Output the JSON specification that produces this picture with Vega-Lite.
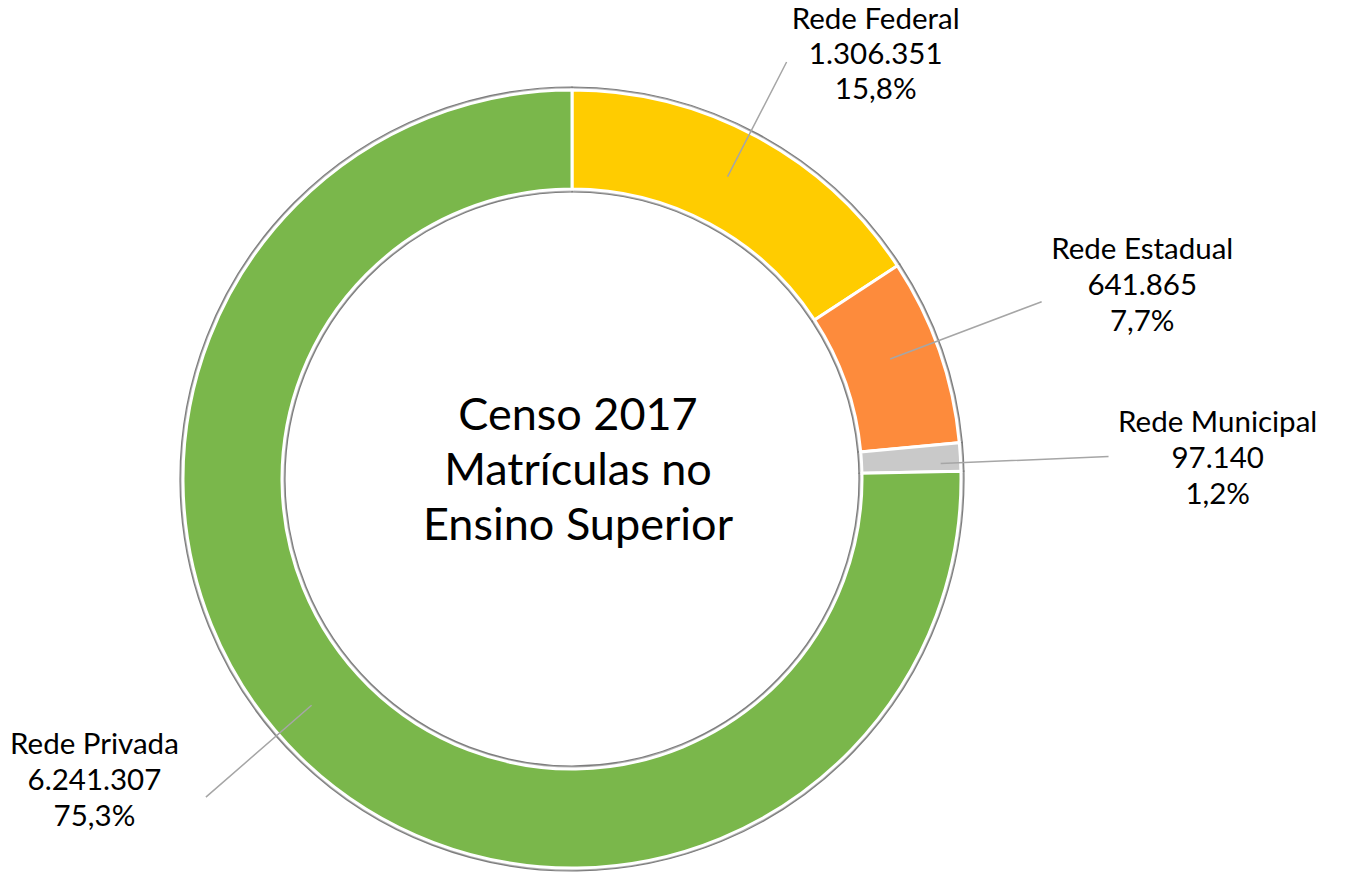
{
  "$schema": "https://vega.github.io/schema/vega-lite/v6.json",
  "width": 800,
  "height": 800,
  "autosize": {"type": "none"},
  "padding": {"left": 172, "top": 79, "right": 375, "bottom": 12},
  "background": "white",
  "config": {
    "view": {"stroke": null},
    "font": "Lato",
    "locale": {
      "number": {"decimal": ",", "thousands": ".", "grouping": [3], "currency": ["R$ ", ""]}
    }
  },
  "data": {
    "values": [
      {"rede": "Rede Federal", "ordem": 1, "n": 1306351},
      {"rede": "Rede Estadual", "ordem": 2, "n": 641865},
      {"rede": "Rede Municipal", "ordem": 3, "n": 97140},
      {"rede": "Rede Privada", "ordem": 4, "n": 6241307}
    ]
  },
  "transform": [
    {"joinaggregate": [{"op": "sum", "field": "n", "as": "total"}]},
    {"window": [{"op": "sum", "field": "n", "as": "acum"}], "sort": [{"field": "ordem"}], "frame": [null, 0]},
    {"calculate": "datum.acum - datum.n / 2", "as": "meio"},
    {"calculate": "[datum.rede, format(datum.n, ',d'), format(datum.n / datum.total, '.1%')]", "as": "rotulo"}
  ],
  "layer": [
    {
      "mark": {"type": "arc", "radius": 392, "radius2": 287, "fill": "#b3b3b3", "stroke": "#7d7d7d", "strokeWidth": 1.2},
      "encoding": {
        "theta": {"field": "n", "type": "quantitative", "stack": "zero"},
        "order": {"field": "ordem"}
      }
    },
    {
      "mark": {"type": "arc", "radius": 389, "radius2": 290, "stroke": "white", "strokeWidth": 3},
      "encoding": {
        "theta": {"field": "n", "type": "quantitative", "stack": "zero"},
        "order": {"field": "ordem"},
        "color": {
          "field": "rede",
          "type": "nominal",
          "scale": {
            "domain": ["Rede Federal", "Rede Estadual", "Rede Municipal", "Rede Privada"],
            "range": ["#ffcc00", "#fd8b3c", "#c9c9c9", "#7ab74b"]
          },
          "legend": null
        }
      }
    },
    {
      "transform": [{"filter": "datum.rede === 'Rede Federal'"}],
      "mark": {"type": "arc", "radius": 340, "radius2": 469, "thetaOffset": -0.02, "theta2Offset": -0.02, "fill": "transparent", "stroke": "#a6a6a6", "strokeWidth": 1.5},
      "encoding": {
        "theta": {"field": "meio", "type": "quantitative", "stack": null},
        "theta2": {"field": "meio"}
      }
    },
    {
      "transform": [{"filter": "datum.rede === 'Rede Estadual'"}],
      "mark": {"type": "arc", "radius": 340, "radius2": 502, "thetaOffset": -0.024, "theta2Offset": -0.024, "fill": "transparent", "stroke": "#a6a6a6", "strokeWidth": 1.5},
      "encoding": {
        "theta": {"field": "meio", "type": "quantitative", "stack": null},
        "theta2": {"field": "meio"}
      }
    },
    {
      "transform": [{"filter": "datum.rede === 'Rede Municipal'"}],
      "mark": {"type": "arc", "radius": 369, "radius2": 537, "thetaOffset": 0.015, "theta2Offset": 0.015, "fill": "transparent", "stroke": "#a6a6a6", "strokeWidth": 1.5},
      "encoding": {
        "theta": {"field": "meio", "type": "quantitative", "stack": null},
        "theta2": {"field": "meio"}
      }
    },
    {
      "transform": [{"filter": "datum.rede === 'Rede Privada'"}],
      "mark": {"type": "arc", "radius": 345, "radius2": 485, "thetaOffset": 0.08, "theta2Offset": 0.08, "fill": "transparent", "stroke": "#a6a6a6", "strokeWidth": 1.5},
      "encoding": {
        "theta": {"field": "meio", "type": "quantitative", "stack": null},
        "theta2": {"field": "meio"}
      }
    },
    {
      "transform": [{"filter": "datum.rede === 'Rede Federal'"}],
      "mark": {"type": "text", "radius": 523, "thetaOffset": 0.1243, "dy": -33, "fontSize": 29.5, "lineHeight": 35, "align": "center", "baseline": "middle", "color": "black"},
      "encoding": {
        "theta": {"field": "meio", "type": "quantitative", "stack": null},
        "text": {"field": "rotulo"}
      }
    },
    {
      "transform": [{"filter": "datum.rede === 'Rede Estadual'"}],
      "mark": {"type": "text", "radius": 602, "thetaOffset": 0.0105, "dy": -36, "fontSize": 29.5, "lineHeight": 36, "align": "center", "baseline": "middle", "color": "black"},
      "encoding": {
        "theta": {"field": "meio", "type": "quantitative", "stack": null},
        "text": {"field": "rotulo"}
      }
    },
    {
      "transform": [{"filter": "datum.rede === 'Rede Municipal'"}],
      "mark": {"type": "text", "radius": 646, "thetaOffset": 0.0258, "dy": -36, "fontSize": 29.5, "lineHeight": 36, "align": "center", "baseline": "middle", "color": "black"},
      "encoding": {
        "theta": {"field": "meio", "type": "quantitative", "stack": null},
        "text": {"field": "rotulo"}
      }
    },
    {
      "transform": [{"filter": "datum.rede === 'Rede Privada'"}],
      "mark": {"type": "text", "radius": 565, "thetaOffset": 0.2316, "dy": -36, "fontSize": 29.5, "lineHeight": 36, "align": "center", "baseline": "middle", "color": "black"},
      "encoding": {
        "theta": {"field": "meio", "type": "quantitative", "stack": null},
        "text": {"field": "rotulo"}
      }
    },
    {
      "data": {"values": [{"titulo": ["Censo 2017", "Matrículas no", "Ensino Superior"]}]},
      "mark": {"type": "text", "fontSize": 45, "lineHeight": 55, "align": "center", "baseline": "middle", "dx": 6, "dy": -63, "color": "black"},
      "encoding": {
        "text": {"field": "titulo"}
      }
    }
  ]
}
